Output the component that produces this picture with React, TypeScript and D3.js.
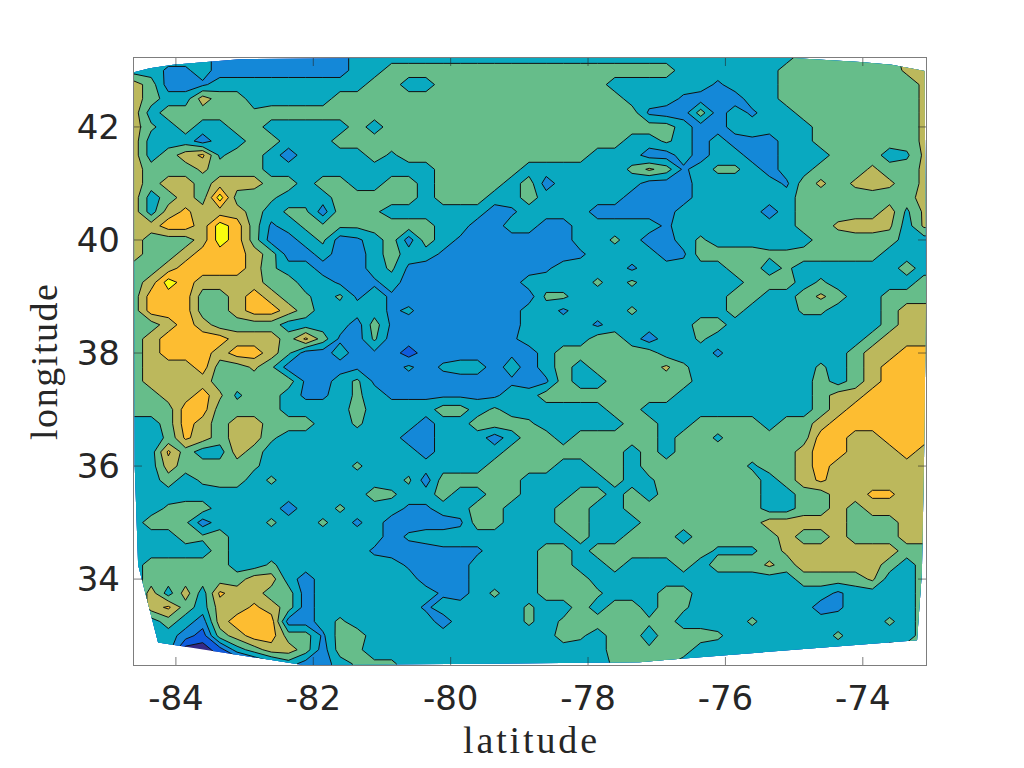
import React from 'react';
import * as d3 from 'd3';

// level at every 0.25 degree grid node, one string per latitude (north first)
const levelRows = [
  '3333322222 2223333333 3333333333 3333333334 4444455',
  '33bb322222 2223344444 4444444444 4433333344 44444cc',
  '5422b33333 3333443344 4444444433 3333b33344 444444c',
  '5433544333 3344444444 4444444443 33b2223344 444444c',
  '5344444a44 4444444444 4444444444 b22423b334 444444c',
  '5a34334433 3334344444 4444444444 4432233333 444444c',
  '5333233443 3344444444 4444444443 3a3232b233 444444c',
  '5345de4432 33334e4444 4444444333 2232332233 34443ec',
  '5444c44433 3333333344 444333333a c4b3aa3233 444c44c',
  '5455455544 3443344344 4434233333 22233333b4 c4c5c4c',
  '5345474aa3 3344444344 4334333332 2223333334 4444445',
  '535d55543a a244a33333 32b3333222 2233333234 44445ec',
  '55665764b3 aaaa444433 2233223333 3b33333334 4c55c3c',
  '5444576422 3a2b34243b 22222233a3 223a333333 4444433',
  '5445666542 23223433b2 222222b333 32b4444aa4 4444333',
  '44566665a3 32223ab222 2222b3333b 33333443a3 3333343',
  '4576555544 33b2b32222 2223333a3a 3333334443 a333334',
  '4666445654 a3ab3b2222 2222aa3333 3333344334 c433444',
  '4666445665 43333bg222 22233b333a 333334333a a333455',
  '4456544443 33324b2222 2223333b33 3334433333 3333455',
  '4566665554 d4b2a22222 22b3333443 233a333333 3334555',
  '456665665a 2232b21222 22b2344444 4333b33333 3345566',
  '4555644ca2 222bb2g2g3 3232343444 4ca3333333 a345666',
  '4555544444 b23ab22222 22b2b43344 4443333333 4345666',
  '44556ce443 bb3a3bbbbb bb33444444 4433333333 4556666',
  '4446644443 3334333344 3a33333344 3333333333 4566666',
  '3346545544 433a333233 444a333334 4334444344 5666666',
  '33ad5455a3 3333332233 3234434444 4344e44444 6655666',
  '33d4335433 3333333233 3344444443 4344444445 6655565',
  '3354444a33 333a333333 3444433443 444444e445 6555555',
  '3343a443a3 333333a244 4443333343 e444444345 d555555',
  '3333333333 33334a3343 3443334434 3444444334 455dd55',
  '33a4433332 33a333bb33 4433344334 4444444334 4545555',
  '344a2333a3 3a3b32222b 4433344333 4444444555 5544455',
  '3334a43333 333332g333 3333334334 4434444454 4544455',
  '3333343333 3333b222bb b333443444 4444eee4c5 5555544',
  '34444433a3 333333b222 3333443343 3343444c45 5555434',
  '3444444553 2333333222 3333444333 3333333334 444c334',
  '35353d5544 23333333b2 3a33444a33 3443333333 3b33334',
  '35d4355d54 2333333b33 333a334344 34a3333333 2b33334',
  '3343256662 23a3333323 333a3aa444 a43333a333 3333a34',
  '3332145664 4b44333333 333334a344 3444a33333 3a33334',
  '3330013455 424a333333 3333333344 a443333333 3333444',
  '3330000123 223aaa3333 33333333aa aa33333333 3333444',
];

// letters are small bumps that stay just over or under a contour level
const bumpValues: Record<string, number> = { a: 3.7, b: 2.3, c: 4.7, d: 5.7, e: 3.3, g: 2.7 };

const contourLevels = [0.5, 1.5, 2.5, 3.5, 4.5, 5.5, 6.5];
const levelColors = ['#0f5cdd', '#1488d8', '#09a9c0', '#66bd8a', '#bcb85c', '#fdbd31', '#f9fb0e'];
const lowestColor = '#352a87';

// outline of the sampled area
const hullLon = [-84.61, -84.38, -84.04, -83.07, -80.74, -75.03, -74.04, -73.58, -73.1, -73.08, -73.11, -73.14, -73.21, -76.88, -77.25, -79.53, -82.15, -84.26, -84.55, -84.6];
const hullLat = [42.97, 43.04, 43.1, 43.2, 43.22, 43.22, 43.15, 43.1, 42.99, 38.94, 36.02, 34.12, 32.92, 32.57, 32.53, 32.5, 32.48, 32.88, 34.25, 36.02];

const xTicks = [-84, -82, -80, -78, -76, -74];
const yTicks = [34, 36, 38, 40, 42];

const lonStart = -84.61;
const latStart = 43.25;
const step = 0.25;

const App = () => {
  const width = 1024;
  const height = 768;
  const left = 134;
  const right = 926;
  const top = 58;
  const bottom = 665;

  const x = d3.scaleLinear().domain([-84.61, -73.08]).range([left, right]);
  const y = d3.scaleLinear().domain([32.48, 43.22]).range([bottom, top]);

  // last column and last row are repeated so the contours run past the frame
  const parsed = levelRows.map((row) => {
    const cells = row.replace(/ /g, '').split('').map((c) => (c in bumpValues ? bumpValues[c] : +c));
    return [...cells, cells[cells.length - 1]];
  });
  parsed.push(parsed[parsed.length - 1]);
  const nCols = parsed[0].length;
  const nRows = parsed.length;

  const contours = d3
    .contours()
    .size([nCols, nRows])
    .thresholds(contourLevels)(parsed.flat());

  const project = d3.geoTransform({
    point(gx: number, gy: number) {
      this.stream.point(x(lonStart + (gx - 0.5) * step), y(latStart - (gy - 0.5) * step));
    },
  });
  const path = d3.geoPath(project);

  const hull = d3
    .line<number>()
    .x((lon) => x(lon))
    .y((_, i) => y(hullLat[i]))(hullLon);

  const axisColor = '#262626';
  const tickLen = 8;

  return (
    <svg width={width} height={height} style={{ position: 'absolute', left: 0, top: 0 }}>
      <rect width={width} height={height} fill="#fff" />
      <defs>
        <clipPath id="hull">
          <path d={hull + 'Z'} />
        </clipPath>
      </defs>
      <g clipPath="url(#hull)">
        <rect x={left} y={top} width={right - left} height={bottom - top} fill={lowestColor} />
        {contours.map((c, i) => (
          <path key={i} d={path(c) || ''} fill={levelColors[i]} stroke="#111" strokeWidth={1} strokeLinejoin="miter" />
        ))}
      </g>

      <g fill="none" stroke={axisColor} strokeOpacity={0.6}>
        <rect x={left - 0.5} y={top - 0.5} width={right - left + 1} height={bottom - top + 1} />
        {xTicks.map((t) => (
          <g key={t}>
            <line x1={x(t)} x2={x(t)} y1={bottom} y2={bottom - tickLen} />
            <line x1={x(t)} x2={x(t)} y1={top} y2={top + tickLen} />
          </g>
        ))}
        {yTicks.map((t) => (
          <g key={t}>
            <line x1={left} x2={left + tickLen} y1={y(t)} y2={y(t)} />
            <line x1={right} x2={right - tickLen} y1={y(t)} y2={y(t)} />
          </g>
        ))}
      </g>

      <g fontFamily="'DejaVu Sans'" fontSize={34} fill={axisColor}>
        {xTicks.map((t) => (
          <text key={t} x={x(t)} y={710} textAnchor="middle">
            {t}
          </text>
        ))}
        {yTicks.map((t) => (
          <text key={t} x={120} y={y(t) + 12} textAnchor="end">
            {t}
          </text>
        ))}
      </g>

      <g fontFamily="'Liberation Serif'" fontSize={38} fill={axisColor}>
        <text x={530} y={753} textAnchor="middle" textLength={134} lengthAdjust="spacing">
          latitude
        </text>
        <text transform="translate(57,362) rotate(-90)" textAnchor="middle" textLength={156} lengthAdjust="spacing">
          longitude
        </text>
      </g>
    </svg>
  );
};

export default App;
